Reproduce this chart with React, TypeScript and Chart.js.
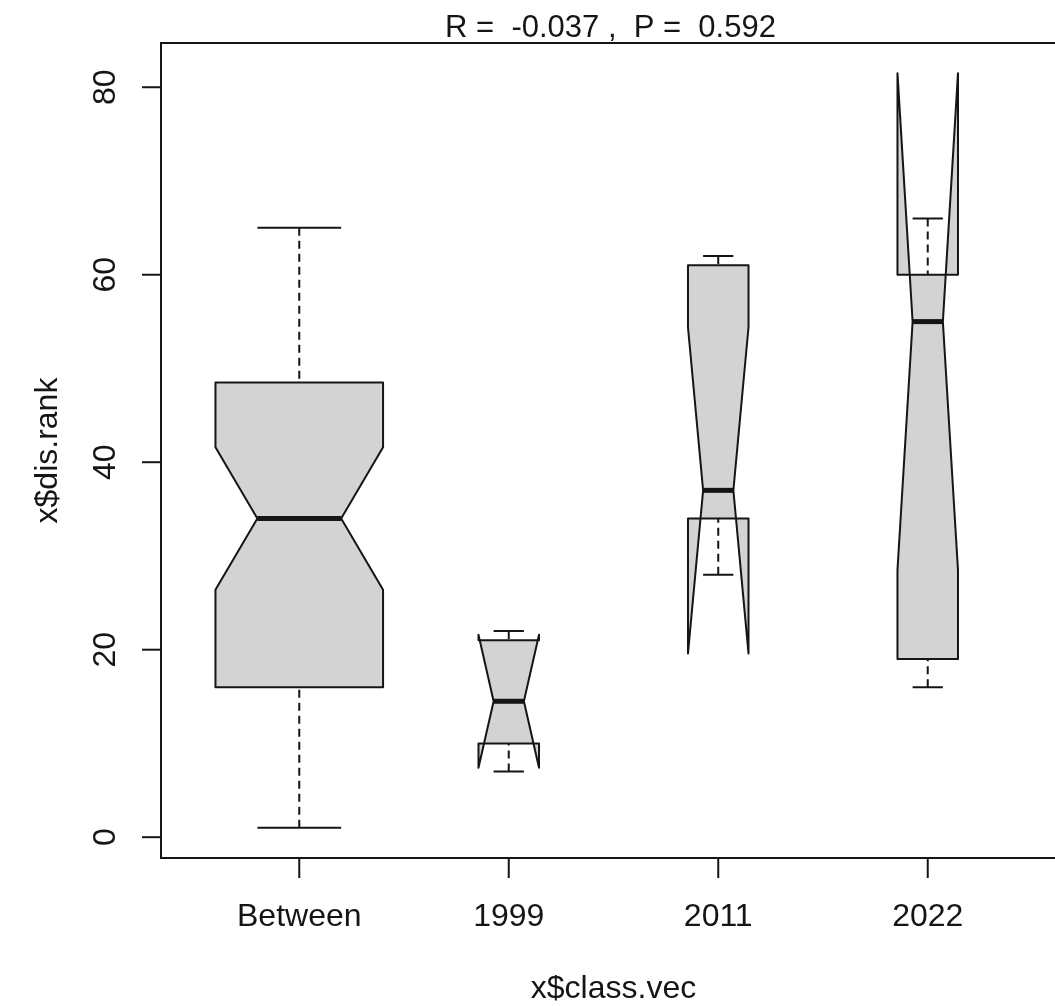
import { useEffect, useRef } from 'react';
import { Chart, registerables } from 'chart.js';

Chart.register(...registerables);

// Group labels along the x axis
const CATEGORIES = ['Between', '1999', '2011', '2022'];
// Five-number summaries per group
const WHISKER_LOW = [1, 7, 28, 16];
const Q1 = [16, 10, 34, 19];
const MEDIAN = [34, 14.5, 37, 55];
const Q3 = [48.5, 21, 61, 60];
const WHISKER_HIGH = [65, 22, 62, 66];
// Notch limits (confidence interval of the median)
const NOTCH_LOW = [26.4, 7.4, 19.6, 28.5];
const NOTCH_HIGH = [41.6, 21.6, 54.4, 81.5];
// Group sizes (box widths are proportional to sqrt(n))
const COUNTS = [46, 6, 6, 6];
// Y axis tick labels
const Y_TICKS = [0, 20, 40, 60, 80];

const TITLE = 'R =  -0.037 ,  P =  0.592';
const X_TITLE = 'x$class.vec';
const Y_TITLE = 'x$dis.rank';

const FAMILY = '"Liberation Sans", Arial, Helvetica, sans-serif';
const FONT = `32px ${FAMILY}`;
const TITLE_FONT = `31px ${FAMILY}`;
const INK = '#151515';
const BOX_FILL = '#d3d3d3';
const BOX_WEX = 0.8;
const NOTCH_FRAC = 0.5;
const STAPLE_WEX = 0.5;

const CANVAS_W = 1080;
const CANVAS_H = 1006;

const boxPlotPlugin = {
  id: 'notchedBoxes',
  afterDatasetsDraw(chart: any) {
    const { ctx } = chart;
    const xs = chart.scales.x;
    const ys = chart.scales.y;
    const maxRoot = Math.max(...COUNTS.map((n) => Math.sqrt(n)));
    ctx.save();
    ctx.lineJoin = 'round';
    CATEGORIES.forEach((_, i) => {
      const pos = i + 1;
      const halfW = (BOX_WEX / 2) * (Math.sqrt(COUNTS[i]) / maxRoot);
      const px = (dx: number) => xs.getPixelForValue(pos + dx);
      const py = (v: number) => ys.getPixelForValue(v);
      const nw = halfW * NOTCH_FRAC;

      // notched box outline
      const pts: [number, number][] = [
        [-halfW, Q1[i]],
        [halfW, Q1[i]],
        [halfW, NOTCH_LOW[i]],
        [nw, MEDIAN[i]],
        [halfW, NOTCH_HIGH[i]],
        [halfW, Q3[i]],
        [-halfW, Q3[i]],
        [-halfW, NOTCH_HIGH[i]],
        [-nw, MEDIAN[i]],
        [-halfW, NOTCH_LOW[i]],
      ];
      ctx.beginPath();
      pts.forEach(([dx, v], k) => {
        if (k === 0) ctx.moveTo(px(dx), py(v));
        else ctx.lineTo(px(dx), py(v));
      });
      ctx.closePath();
      ctx.fillStyle = BOX_FILL;
      ctx.fill();
      ctx.strokeStyle = INK;
      ctx.lineWidth = 2;
      ctx.stroke();

      // whiskers
      const cx = px(0);
      ctx.setLineDash([8, 5]);
      ctx.lineWidth = 2;
      ctx.beginPath();
      ctx.moveTo(cx, py(WHISKER_HIGH[i]));
      ctx.lineTo(cx, py(Q3[i]));
      ctx.moveTo(cx, py(WHISKER_LOW[i]));
      ctx.lineTo(cx, py(Q1[i]));
      ctx.stroke();
      ctx.setLineDash([]);

      // staples
      const sw = halfW * STAPLE_WEX;
      ctx.beginPath();
      ctx.moveTo(px(-sw), py(WHISKER_HIGH[i]));
      ctx.lineTo(px(sw), py(WHISKER_HIGH[i]));
      ctx.moveTo(px(-sw), py(WHISKER_LOW[i]));
      ctx.lineTo(px(sw), py(WHISKER_LOW[i]));
      ctx.stroke();

      // median
      ctx.lineWidth = 5;
      ctx.lineCap = 'butt';
      ctx.beginPath();
      ctx.moveTo(px(-nw), py(MEDIAN[i]));
      ctx.lineTo(px(nw), py(MEDIAN[i]));
      ctx.stroke();
    });
    ctx.restore();
  },
  afterDraw(chart: any) {
    const { ctx, chartArea } = chart;
    const xs = chart.scales.x;
    const ys = chart.scales.y;
    const { left, top, right, bottom } = chartArea;
    ctx.save();
    ctx.strokeStyle = INK;
    ctx.fillStyle = INK;
    ctx.lineWidth = 2;

    // plot frame
    ctx.strokeRect(left, top, right - left, bottom - top);

    ctx.font = FONT;
    // x axis ticks and labels
    ctx.textAlign = 'center';
    ctx.textBaseline = 'alphabetic';
    CATEGORIES.forEach((label, i) => {
      const x = xs.getPixelForValue(i + 1);
      ctx.beginPath();
      ctx.moveTo(x, bottom);
      ctx.lineTo(x, bottom + 20);
      ctx.stroke();
      ctx.fillText(label, x, 926);
    });

    // y axis ticks and rotated labels
    Y_TICKS.forEach((v) => {
      const y = ys.getPixelForValue(v);
      ctx.beginPath();
      ctx.moveTo(left, y);
      ctx.lineTo(left - 19, y);
      ctx.stroke();
      ctx.save();
      ctx.translate(115, y);
      ctx.rotate(-Math.PI / 2);
      ctx.fillText(String(v), 0, 0);
      ctx.restore();
    });

    // axis titles
    const cxPlot = (left + right) / 2;
    ctx.fillText(X_TITLE, cxPlot, 998);
    ctx.save();
    ctx.translate(57, (top + bottom) / 2);
    ctx.rotate(-Math.PI / 2);
    ctx.fillText(Y_TITLE, 0, 0);
    ctx.restore();

    // main title
    ctx.font = TITLE_FONT;
    ctx.fillText(TITLE, cxPlot - 3, 37);

    ctx.restore();
  },
};

export default function App() {
  const canvasRef = useRef<HTMLCanvasElement | null>(null);

  useEffect(() => {
    const canvas = canvasRef.current;
    if (!canvas) return;

    const n = CATEGORIES.length;
    const xPad = 0.04 * n;
    const lo = Math.min(...WHISKER_LOW, ...NOTCH_LOW, ...Q1);
    const hi = Math.max(...WHISKER_HIGH, ...NOTCH_HIGH, ...Q3);
    const yPad = 0.04 * (hi - lo);

    const chart = new Chart(canvas, {
      type: 'scatter',
      data: {
        datasets: [
          {
            label: 'median',
            data: MEDIAN.map((m, i) => ({ x: i + 1, y: m })),
            pointRadius: 0,
            showLine: false,
          },
        ],
      },
      options: {
        animation: false,
        responsive: false,
        events: [],
        layout: {
          padding: { left: 161, top: 43, right: CANVAS_W - 1066, bottom: CANVAS_H - 858 },
        },
        plugins: {
          legend: { display: false },
          tooltip: { enabled: false },
          title: { display: false },
        },
        scales: {
          x: {
            type: 'linear',
            display: false,
            min: 0.5 - xPad,
            max: n + 0.5 + xPad,
          },
          y: {
            type: 'linear',
            display: false,
            min: lo - yPad,
            max: hi + yPad,
          },
        },
      },
      plugins: [boxPlotPlugin],
    });

    return () => chart.destroy();
  }, []);

  return (
    <div
      style={{
        position: 'fixed',
        left: 0,
        top: 0,
        width: 1055,
        height: 1006,
        overflow: 'hidden',
        background: '#ffffff',
      }}
    >
      <canvas
        ref={canvasRef}
        width={CANVAS_W}
        height={CANVAS_H}
        style={{ display: 'block', width: CANVAS_W, height: CANVAS_H }}
      />
    </div>
  );
}
